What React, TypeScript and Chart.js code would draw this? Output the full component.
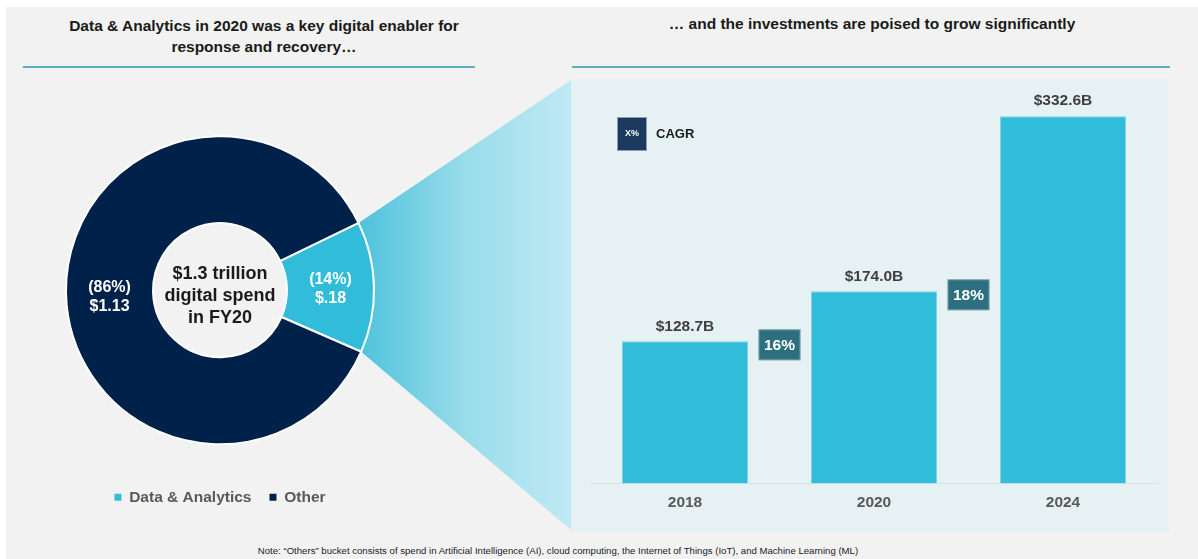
import React, { useEffect, useRef } from "react";
import { Chart, registerables } from "chart.js";

Chart.register(...registerables);

const FONT = '"Liberation Sans", Arial, Helvetica, sans-serif';

// ---- data ----
const spendLabels = ["Data & Analytics", "Other"];
const spendValues = [0.18, 1.13];
const spendShares = ["(14%)", "(86%)"];
const spendAmounts = ["$.18", "$1.13"];
const centerLines = ["$1.3 trillion", "digital spend", "in FY20"];

const years = ["2018", "2020", "2024"];
const investment = [128.7, 174.0, 332.6];
const valueLabels = ["$128.7B", "$174.0B", "$332.6B"];
const cagrLabels = ["16%", "18%"];

const leftTitle = ["Data & Analytics in 2020 was a key digital enabler for", "response and recovery…"];
const rightTitle = "… and the investments are poised to grow significantly";
const noteText =
  "Note: “Others” bucket consists of spend in Artificial Intelligence (AI), cloud computing,  the Internet of Things (IoT), and Machine Learning (ML)";

// ---- colours ----
const NAVY = "#00214a";
const CYAN = "#31bcd9";
const TEAL = "#2d6f7f";
const RULE = "#5aafc3";
const PANEL = "#e6f1f4";
const GRAY = "#f2f2f2";

function Donut() {
  const ref = useRef<HTMLCanvasElement>(null);
  useEffect(() => {
    if (!ref.current) return;
    const funnel = {
      id: "funnel",
      beforeDatasetsDraw(chart: any) {
        const arc = chart.getDatasetMeta(0).data[0];
        if (!arc) return;
        const { x, y, startAngle, endAngle, outerRadius } = arc.getProps(
          ["x", "y", "startAngle", "endAngle", "outerRadius"],
          true
        );
        const ctx = chart.ctx;
        const W = chart.width;
        const H = chart.height;
        const x1 = x + outerRadius * Math.cos(startAngle);
        const y1 = y + outerRadius * Math.sin(startAngle);
        const x2 = x + outerRadius * Math.cos(endAngle);
        const y2 = y + outerRadius * Math.sin(endAngle);
        const g = ctx.createLinearGradient(x1, 0, W, 0);
        g.addColorStop(0, "#4fc2dc");
        g.addColorStop(0.5, "#98dcea");
        g.addColorStop(1, "#c0eaf4");
        ctx.save();
        ctx.beginPath();
        ctx.moveTo(x1, y1);
        ctx.lineTo(W, 1);
        ctx.lineTo(W, H - 2);
        ctx.lineTo(x2, y2);
        ctx.arc(x, y, outerRadius, endAngle, startAngle, true);
        ctx.closePath();
        ctx.fillStyle = g;
        ctx.fill();
        ctx.restore();
      },
    };
    const labels = {
      id: "donutLabels",
      afterDatasetsDraw(chart: any) {
        const meta = chart.getDatasetMeta(0);
        const ctx = chart.ctx;
        const first = meta.data[0];
        if (!first) return;
        const cx = first.x;
        const cy = first.y;
        ctx.save();
        ctx.textAlign = "center";
        ctx.textBaseline = "middle";
        ctx.fillStyle = "#1a1a1a";
        ctx.font = `bold 18px ${FONT}`;
        const offs = [-16, 6, 28];
        centerLines.forEach((t, i) => ctx.fillText(t, cx, cy + offs[i]));
        ctx.fillStyle = "#ffffff";
        ctx.font = `bold 16px ${FONT}`;
        const shift = [1, 4];
        meta.data.forEach((a: any, i: number) => {
          const p = a.getCenterPoint();
          ctx.fillText(spendShares[i], p.x, p.y - 9 + shift[i]);
          ctx.fillText(spendAmounts[i], p.x, p.y + 10 + shift[i]);
        });
        ctx.restore();
      },
    };
    const total = spendValues.reduce((a, b) => a + b, 0);
    const halfDA = (spendValues[0] / total) * 180;
    const chart = new Chart(ref.current, {
      type: "doughnut",
      data: {
        labels: spendLabels,
        datasets: [
          {
            data: spendValues,
            backgroundColor: [CYAN, NAVY],
            borderColor: "#ffffff",
            borderWidth: 2,
          },
        ],
      },
      options: {
        responsive: false,
        maintainAspectRatio: false,
        animation: false,
        events: [],
        cutout: "43.5%",
        rotation: 90 - 1.2 - halfDA,
        layout: { padding: { left: 59, right: 196, top: 30, bottom: 17 } },
        plugins: {
          tooltip: { enabled: false },
          legend: {
            position: "bottom",
            labels: {
              boxWidth: 7,
              boxHeight: 7,
              padding: 18,
              color: "#595959",
              font: { family: FONT, size: 15.5, weight: "bold" },
              generateLabels: (c: any) =>
                (Chart as any).overrides.doughnut.plugins.legend.labels
                  .generateLabels(c)
                  .map((l: any) => ({ ...l, lineWidth: 0, strokeStyle: "transparent" })),
            },
          },
        },
      } as any,
      plugins: [funnel, labels],
    });
    return () => chart.destroy();
  }, []);
  return (
    <canvas
      ref={ref}
      width={565}
      height={453}
      style={{ position: "absolute", left: 6, top: 79, width: 565, height: 453 }}
    />
  );
}

function Bars() {
  const ref = useRef<HTMLCanvasElement>(null);
  useEffect(() => {
    if (!ref.current) return;
    const barLabels = {
      id: "barLabels",
      afterDatasetsDraw(chart: any) {
        const ctx = chart.ctx;
        const bars = chart.getDatasetMeta(0).data;
        ctx.save();
        ctx.textAlign = "center";
        ctx.textBaseline = "middle";
        ctx.font = `bold 15.5px ${FONT}`;
        ctx.fillStyle = "#3f3f3f";
        bars.forEach((b: any, i: number) => ctx.fillText(valueLabels[i], b.x, b.y - 15));
        // CAGR boxes between bars
        for (let i = 0; i < cagrLabels.length; i++) {
          const a = bars[i];
          const c = bars[i + 1];
          const bx = (a.x + a.width / 2 + (c.x - c.width / 2)) / 2;
          const by = a.y + 3.5;
          ctx.fillStyle = TEAL;
          ctx.fillRect(bx - 21, by - 15.5, 42, 31);
          ctx.strokeStyle = "rgba(255,255,255,0.35)";
          ctx.lineWidth = 1;
          ctx.strokeRect(bx - 20.5, by - 15, 41, 30);
          ctx.fillStyle = "#ffffff";
          ctx.font = `bold 15.5px ${FONT}`;
          ctx.fillText(cagrLabels[i], bx, by + 1);
        }
        // CAGR key
        const kx = chart.chartArea.left + 26.5;
        const ky = 38;
        ctx.fillStyle = "#1c3a5e";
        ctx.fillRect(kx, ky, 30, 34);
        ctx.strokeStyle = "rgba(255,255,255,0.5)";
        ctx.strokeRect(kx + 0.5, ky + 0.5, 29, 33);
        ctx.fillStyle = "#ffffff";
        ctx.font = `bold 9px ${FONT}`;
        ctx.fillText("X%", kx + 15, ky + 17);
        ctx.fillStyle = "#1a1a1a";
        ctx.font = `bold 13px ${FONT}`;
        ctx.textAlign = "left";
        ctx.fillText("CAGR", kx + 39, ky + 17);
        ctx.restore();
      },
    };
    const chart = new Chart(ref.current, {
      type: "bar",
      data: {
        labels: years,
        datasets: [
          {
            data: investment,
            backgroundColor: CYAN,
            borderColor: "#7fd2e5",
            borderWidth: 1,
            barPercentage: 0.667,
            categoryPercentage: 1,
          },
        ],
      },
      options: {
        responsive: false,
        maintainAspectRatio: false,
        animation: false,
        events: [],
        layout: { padding: { left: 19.5, right: 11.5, top: 18, bottom: 10 } },
        plugins: { legend: { display: false }, tooltip: { enabled: false } },
        scales: {
          x: {
            grid: { display: false, drawTicks: false },
            border: { display: true, color: "#d3e3e8", width: 1 },
            ticks: {
              color: "#595959",
              padding: 10,
              font: { family: FONT, size: 15.5, weight: "bold" },
            },
          },
          y: { display: false, min: 0, max: 350 },
        },
      } as any,
      plugins: [barLabels],
    });
    return () => chart.destroy();
  }, []);
  return (
    <canvas
      ref={ref}
      width={598}
      height={453}
      style={{ position: "absolute", left: 571, top: 79, width: 598, height: 453 }}
    />
  );
}

export default function App() {
  const titleStyle: React.CSSProperties = {
    position: "absolute",
    fontFamily: FONT,
    fontWeight: "bold",
    fontSize: 15.5,
    lineHeight: "21px",
    color: "#1a1a1a",
    textAlign: "center",
    whiteSpace: "nowrap",
  };
  return (
    <div
      style={{
        position: "absolute",
        left: 0,
        top: 0,
        width: 1198,
        height: 559,
        background: "#ffffff",
        overflow: "hidden",
      }}
    >
      <div style={{ position: "absolute", left: 6, top: 7, width: 1192, height: 552, background: GRAY }} />
      <div style={{ ...titleStyle, left: 0, top: 14.5, width: 528 }}>
        {leftTitle[0]}
        <br />
        {leftTitle[1]}
      </div>
      <div style={{ position: "absolute", left: 23, top: 66, width: 452, height: 2, background: RULE }} />
      <div style={{ ...titleStyle, left: 572, top: 12.5, width: 600 }}>{rightTitle}</div>
      <div style={{ position: "absolute", left: 572, top: 66, width: 598, height: 2, background: RULE }} />
      <div style={{ position: "absolute", left: 571, top: 79, width: 598, height: 453, background: PANEL }} />
      <Donut />
      <Bars />
      <div
        style={{
          position: "absolute",
          left: 108,
          top: 545,
          width: 900,
          textAlign: "center",
          fontFamily: FONT,
          fontSize: 9.6,
          lineHeight: "12px",
          color: "#222222",
          whiteSpace: "nowrap",
        }}
      >
        {noteText}
      </div>
    </div>
  );
}
